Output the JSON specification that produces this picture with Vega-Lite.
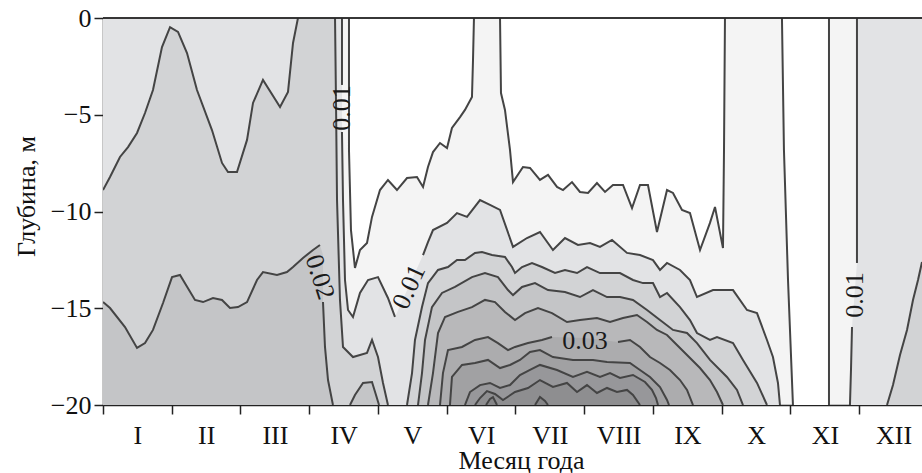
{
"$schema":"https://vega.github.io/schema/vega-lite/v6.json",
"width":819,"height":387,"autosize":"none",
"padding":{"left":103,"top":18,"right":0,"bottom":68},
"config":{"view":{"fill":"#f4f4f4","stroke":null},
"axis":{"labelFont":"'Liberation Serif', 'Times New Roman', 'DejaVu Serif', serif","labelFontSize":26,"titleFont":"'Liberation Serif', 'Times New Roman', 'DejaVu Serif', serif","titleFontSize":26,"titleFontWeight":"normal","labelColor":"#111","titleColor":"#111","domainColor":"#222","tickColor":"#222","domainWidth":1.5,"tickWidth":1.5,"tickSize":9,"grid":false,"zindex":1}},
"datasets":{"pg":[
{"p":"W1","v":0,"i":1,"m":3.578,"d":0,"s":"w1"},{"p":"W1","v":0,"i":2,"m":3.578,"d":-6.82,"s":"w1"},{"p":"W1","v":0,"i":3,"m":3.607,"d":-10.96,"s":"w1"},{"p":"W1","v":0,"i":4,"m":3.665,"d":-12.92,"s":"w1"},{"p":"W1","v":0,"i":5,"m":3.738,"d":-11.99,"s":"w1"},{"p":"W1","v":0,"i":6,"m":3.84,"d":-11.63,"s":"w1"},{"p":"W1","v":0,"i":7,"m":3.913,"d":-10.28,"s":"w1"},{"p":"W1","v":0,"i":8,"m":4.029,"d":-8.89,"s":"w1"},{"p":"W1","v":0,"i":9,"m":4.145,"d":-8.37,"s":"w1"},{"p":"W1","v":0,"i":10,"m":4.276,"d":-8.89,"s":"w1"},{"p":"W1","v":0,"i":11,"m":4.422,"d":-8.27,"s":"w1"},{"p":"W1","v":0,"i":12,"m":4.567,"d":-8.22,"s":"w1"},{"p":"W1","v":0,"i":13,"m":4.655,"d":-8.73,"s":"w1"},{"p":"W1","v":0,"i":14,"m":4.727,"d":-7.7,"s":"w1"},{"p":"W1","v":0,"i":15,"m":4.8,"d":-6.93,"s":"w1"},{"p":"W1","v":0,"i":16,"m":4.902,"d":-6.46,"s":"w1"},{"p":"W1","v":0,"i":17,"m":5.004,"d":-6.72,"s":"w1"},{"p":"W1","v":0,"i":18,"m":5.076,"d":-5.68,"s":"w1"},{"p":"W1","v":0,"i":19,"m":5.193,"d":-5.12,"s":"w1"},{"p":"W1","v":0,"i":20,"m":5.265,"d":-4.75,"s":"w1"},{"p":"W1","v":0,"i":21,"m":5.367,"d":-4.08,"s":"w1"},{"p":"W1","v":0,"i":22,"m":5.382,"d":-2.17,"s":"w1"},{"p":"W1","v":0,"i":23,"m":5.396,"d":0,"s":"w1"},
{"p":"W2","v":0,"i":1,"m":5.775,"d":0,"s":"w2"},{"p":"W2","v":0,"i":2,"m":5.789,"d":-3.88,"s":"w2"},{"p":"W2","v":0,"i":3,"m":5.847,"d":-4.75,"s":"w2"},{"p":"W2","v":0,"i":4,"m":5.92,"d":-6.82,"s":"w2"},{"p":"W2","v":0,"i":5,"m":5.964,"d":-8.48,"s":"w2"},{"p":"W2","v":0,"i":6,"m":6.109,"d":-7.7,"s":"w2"},{"p":"W2","v":0,"i":7,"m":6.211,"d":-7.75,"s":"w2"},{"p":"W2","v":0,"i":8,"m":6.356,"d":-8.37,"s":"w2"},{"p":"W2","v":0,"i":9,"m":6.473,"d":-8.11,"s":"w2"},{"p":"W2","v":0,"i":10,"m":6.604,"d":-8.73,"s":"w2"},{"p":"W2","v":0,"i":11,"m":6.691,"d":-8.89,"s":"w2"},{"p":"W2","v":0,"i":12,"m":6.822,"d":-8.48,"s":"w2"},{"p":"W2","v":0,"i":13,"m":6.938,"d":-8.99,"s":"w2"},{"p":"W2","v":0,"i":14,"m":7.055,"d":-9.04,"s":"w2"},{"p":"W2","v":0,"i":15,"m":7.185,"d":-8.53,"s":"w2"},{"p":"W2","v":0,"i":16,"m":7.302,"d":-8.99,"s":"w2"},{"p":"W2","v":0,"i":17,"m":7.418,"d":-8.63,"s":"w2"},{"p":"W2","v":0,"i":18,"m":7.564,"d":-8.63,"s":"w2"},{"p":"W2","v":0,"i":19,"m":7.695,"d":-9.82,"s":"w2"},{"p":"W2","v":0,"i":20,"m":7.811,"d":-8.63,"s":"w2"},{"p":"W2","v":0,"i":21,"m":7.927,"d":-8.63,"s":"w2"},{"p":"W2","v":0,"i":22,"m":8.058,"d":-11.06,"s":"w2"},{"p":"W2","v":0,"i":23,"m":8.204,"d":-8.89,"s":"w2"},{"p":"W2","v":0,"i":24,"m":8.291,"d":-9.04,"s":"w2"},{"p":"W2","v":0,"i":25,"m":8.422,"d":-9.92,"s":"w2"},{"p":"W2","v":0,"i":26,"m":8.538,"d":-10.08,"s":"w2"},{"p":"W2","v":0,"i":27,"m":8.684,"d":-11.99,"s":"w2"},{"p":"W2","v":0,"i":28,"m":8.829,"d":-10.59,"s":"w2"},{"p":"W2","v":0,"i":29,"m":8.902,"d":-9.77,"s":"w2"},{"p":"W2","v":0,"i":30,"m":9.018,"d":-11.89,"s":"w2"},{"p":"W2","v":0,"i":31,"m":9.033,"d":-6.82,"s":"w2"},{"p":"W2","v":0,"i":32,"m":9.047,"d":0,"s":"w2"},
{"p":"W3","v":0,"i":1,"m":9.876,"d":0,"s":"w3a"},{"p":"W3","v":0,"i":2,"m":9.905,"d":-6.82,"s":"w3a"},{"p":"W3","v":0,"i":3,"m":9.964,"d":-13.54,"s":"w3a"},{"p":"W3","v":0,"i":4,"m":10.036,"d":-20,"s":"w3a"},{"p":"W3","v":0,"i":5,"m":10.56,"d":-20,"s":"w3b"},{"p":"W3","v":0,"i":6,"m":10.56,"d":0,"s":"w3b"},
{"p":"A10","v":0.01,"i":1,"m":0,"d":-20},{"p":"A10","v":0.01,"i":2,"m":0,"d":0},
{"p":"A10","v":0.01,"i":3,"m":3.476,"d":0,"s":"c10a"},{"p":"A10","v":0.01,"i":4,"m":3.476,"d":-3.46,"s":"c10a"},
{"p":"A10","v":0.01,"i":5,"m":3.476,"d":-5.89,"s":"c10b"},{"p":"A10","v":0.01,"i":6,"m":3.491,"d":-9.41,"s":"c10b"},{"p":"A10","v":0.01,"i":7,"m":3.52,"d":-13.54,"s":"c10b"},{"p":"A10","v":0.01,"i":8,"m":3.564,"d":-15.09,"s":"c10b"},{"p":"A10","v":0.01,"i":9,"m":3.636,"d":-15.45,"s":"c10b"},{"p":"A10","v":0.01,"i":10,"m":3.738,"d":-14.21,"s":"c10b"},{"p":"A10","v":0.01,"i":11,"m":3.855,"d":-13.54,"s":"c10b"},{"p":"A10","v":0.01,"i":12,"m":4.0,"d":-13.39,"s":"c10b"},{"p":"A10","v":0.01,"i":13,"m":4.145,"d":-14.47,"s":"c10b"},{"p":"A10","v":0.01,"i":14,"m":4.247,"d":-15.45,"s":"c10b"},
{"p":"A10","v":0.01,"i":15,"m":4.655,"d":-12.25,"s":"c10c"},{"p":"A10","v":0.01,"i":16,"m":4.727,"d":-11.58,"s":"c10c"},{"p":"A10","v":0.01,"i":17,"m":4.8,"d":-10.96,"s":"c10c"},{"p":"A10","v":0.01,"i":18,"m":5.004,"d":-10.59,"s":"c10c"},{"p":"A10","v":0.01,"i":19,"m":5.149,"d":-10.08,"s":"c10c"},{"p":"A10","v":0.01,"i":20,"m":5.295,"d":-10.28,"s":"c10c"},{"p":"A10","v":0.01,"i":21,"m":5.484,"d":-9.41,"s":"c10c"},{"p":"A10","v":0.01,"i":22,"m":5.629,"d":-9.66,"s":"c10c"},{"p":"A10","v":0.01,"i":23,"m":5.775,"d":-9.92,"s":"c10c"},{"p":"A10","v":0.01,"i":24,"m":5.964,"d":-11.83,"s":"c10c"},{"p":"A10","v":0.01,"i":25,"m":6.167,"d":-11.37,"s":"c10c"},{"p":"A10","v":0.01,"i":26,"m":6.356,"d":-11.06,"s":"c10c"},{"p":"A10","v":0.01,"i":27,"m":6.545,"d":-11.99,"s":"c10c"},{"p":"A10","v":0.01,"i":28,"m":6.72,"d":-11.37,"s":"c10c"},{"p":"A10","v":0.01,"i":29,"m":6.909,"d":-11.73,"s":"c10c"},{"p":"A10","v":0.01,"i":30,"m":7.084,"d":-11.63,"s":"c10c"},{"p":"A10","v":0.01,"i":31,"m":7.229,"d":-11.83,"s":"c10c"},{"p":"A10","v":0.01,"i":32,"m":7.404,"d":-11.47,"s":"c10c"},{"p":"A10","v":0.01,"i":33,"m":7.622,"d":-12.14,"s":"c10c"},{"p":"A10","v":0.01,"i":34,"m":7.811,"d":-12.25,"s":"c10c"},{"p":"A10","v":0.01,"i":35,"m":8.0,"d":-12.51,"s":"c10c"},{"p":"A10","v":0.01,"i":36,"m":8.102,"d":-13.02,"s":"c10c"},{"p":"A10","v":0.01,"i":37,"m":8.204,"d":-12.66,"s":"c10c"},{"p":"A10","v":0.01,"i":38,"m":8.393,"d":-13.02,"s":"c10c"},{"p":"A10","v":0.01,"i":39,"m":8.538,"d":-13.54,"s":"c10c"},{"p":"A10","v":0.01,"i":40,"m":8.64,"d":-14.42,"s":"c10c"},{"p":"A10","v":0.01,"i":41,"m":8.873,"d":-14.06,"s":"c10c"},{"p":"A10","v":0.01,"i":42,"m":9.164,"d":-14.06,"s":"c10c"},{"p":"A10","v":0.01,"i":43,"m":9.367,"d":-15.09,"s":"c10c"},{"p":"A10","v":0.01,"i":44,"m":9.513,"d":-15.25,"s":"c10c"},{"p":"A10","v":0.01,"i":45,"m":9.658,"d":-16.64,"s":"c10c"},{"p":"A10","v":0.01,"i":46,"m":9.745,"d":-17.52,"s":"c10c"},{"p":"A10","v":0.01,"i":47,"m":9.818,"d":-18.86,"s":"c10c"},{"p":"A10","v":0.01,"i":48,"m":9.847,"d":-20,"s":"c10c"},
{"p":"B10","v":0.01,"i":1,"m":10.967,"d":0,"s":"c10d"},{"p":"B10","v":0.01,"i":2,"m":10.967,"d":-6.82,"s":"c10d"},{"p":"B10","v":0.01,"i":3,"m":10.967,"d":-12.66,"s":"c10d"},{"p":"B10","v":0.01,"i":4,"m":10.895,"d":-15.97,"s":"c10e"},{"p":"B10","v":0.01,"i":5,"m":10.88,"d":-18.19,"s":"c10e"},{"p":"B10","v":0.01,"i":6,"m":10.865,"d":-20,"s":"c10e"},{"p":"B10","v":0.01,"i":7,"m":11.913,"d":-20},{"p":"B10","v":0.01,"i":8,"m":11.913,"d":0},
{"p":"A15","v":0.015,"i":1,"m":0,"d":-20},
{"p":"A15","v":0.015,"i":2,"m":0,"d":-8.89,"s":"c15a"},{"p":"A15","v":0.015,"i":3,"m":0.102,"d":-8.22,"s":"c15a"},{"p":"A15","v":0.015,"i":4,"m":0.247,"d":-7.18,"s":"c15a"},{"p":"A15","v":0.015,"i":5,"m":0.364,"d":-6.67,"s":"c15a"},{"p":"A15","v":0.015,"i":6,"m":0.495,"d":-5.94,"s":"c15a"},{"p":"A15","v":0.015,"i":7,"m":0.611,"d":-4.91,"s":"c15a"},{"p":"A15","v":0.015,"i":8,"m":0.727,"d":-3.72,"s":"c15a"},{"p":"A15","v":0.015,"i":9,"m":0.858,"d":-1.5,"s":"c15a"},{"p":"A15","v":0.015,"i":10,"m":0.975,"d":-0.47,"s":"c15a"},{"p":"A15","v":0.015,"i":11,"m":1.091,"d":-0.72,"s":"c15a"},{"p":"A15","v":0.015,"i":12,"m":1.222,"d":-1.81,"s":"c15a"},{"p":"A15","v":0.015,"i":13,"m":1.367,"d":-3.72,"s":"c15a"},{"p":"A15","v":0.015,"i":14,"m":1.585,"d":-5.79,"s":"c15a"},{"p":"A15","v":0.015,"i":15,"m":1.731,"d":-7.49,"s":"c15a"},{"p":"A15","v":0.015,"i":16,"m":1.818,"d":-7.96,"s":"c15a"},{"p":"A15","v":0.015,"i":17,"m":1.949,"d":-7.96,"s":"c15a"},{"p":"A15","v":0.015,"i":18,"m":2.095,"d":-6.3,"s":"c15a"},{"p":"A15","v":0.015,"i":19,"m":2.182,"d":-4.39,"s":"c15a"},{"p":"A15","v":0.015,"i":20,"m":2.327,"d":-3.2,"s":"c15a"},{"p":"A15","v":0.015,"i":21,"m":2.575,"d":-4.6,"s":"c15a"},{"p":"A15","v":0.015,"i":22,"m":2.691,"d":-3.82,"s":"c15a"},{"p":"A15","v":0.015,"i":23,"m":2.764,"d":-1.29,"s":"c15a"},{"p":"A15","v":0.015,"i":24,"m":2.836,"d":0,"s":"c15a"},
{"p":"A15","v":0.015,"i":25,"m":3.375,"d":0,"s":"c15b"},{"p":"A15","v":0.015,"i":26,"m":3.389,"d":-4.24,"s":"c15b"},{"p":"A15","v":0.015,"i":27,"m":3.404,"d":-9.41,"s":"c15b"},{"p":"A15","v":0.015,"i":28,"m":3.447,"d":-14.57,"s":"c15b"},{"p":"A15","v":0.015,"i":29,"m":3.491,"d":-17.0,"s":"c15b"},{"p":"A15","v":0.015,"i":30,"m":3.636,"d":-17.52,"s":"c15b"},{"p":"A15","v":0.015,"i":31,"m":3.84,"d":-17.31,"s":"c15b"},{"p":"A15","v":0.015,"i":32,"m":3.913,"d":-16.64,"s":"c15b"},{"p":"A15","v":0.015,"i":33,"m":4.0,"d":-17.52,"s":"c15b"},{"p":"A15","v":0.015,"i":34,"m":4.073,"d":-18.86,"s":"c15b"},{"p":"A15","v":0.015,"i":35,"m":4.145,"d":-20,"s":"c15b"},
{"p":"B15","v":0.015,"i":1,"m":4.422,"d":-20,"s":"c15c"},{"p":"B15","v":0.015,"i":2,"m":4.495,"d":-18.35,"s":"c15c"},{"p":"B15","v":0.015,"i":3,"m":4.538,"d":-16.64,"s":"c15c"},{"p":"B15","v":0.015,"i":4,"m":4.64,"d":-14.94,"s":"c15c"},{"p":"B15","v":0.015,"i":5,"m":4.727,"d":-13.7,"s":"c15c"},{"p":"B15","v":0.015,"i":6,"m":4.873,"d":-13.02,"s":"c15c"},{"p":"B15","v":0.015,"i":7,"m":5.018,"d":-12.87,"s":"c15c"},{"p":"B15","v":0.015,"i":8,"m":5.149,"d":-12.51,"s":"c15c"},{"p":"B15","v":0.015,"i":9,"m":5.265,"d":-12.51,"s":"c15c"},{"p":"B15","v":0.015,"i":10,"m":5.411,"d":-12.14,"s":"c15c"},{"p":"B15","v":0.015,"i":11,"m":5.513,"d":-12.09,"s":"c15c"},{"p":"B15","v":0.015,"i":12,"m":5.658,"d":-12.25,"s":"c15c"},{"p":"B15","v":0.015,"i":13,"m":5.847,"d":-12.35,"s":"c15c"},{"p":"B15","v":0.015,"i":14,"m":5.949,"d":-12.87,"s":"c15c"},{"p":"B15","v":0.015,"i":15,"m":5.993,"d":-13.18,"s":"c15c"},{"p":"B15","v":0.015,"i":16,"m":6.095,"d":-12.87,"s":"c15c"},{"p":"B15","v":0.015,"i":17,"m":6.24,"d":-12.66,"s":"c15c"},{"p":"B15","v":0.015,"i":18,"m":6.385,"d":-12.87,"s":"c15c"},{"p":"B15","v":0.015,"i":19,"m":6.575,"d":-13.18,"s":"c15c"},{"p":"B15","v":0.015,"i":20,"m":6.72,"d":-13.02,"s":"c15c"},{"p":"B15","v":0.015,"i":21,"m":6.895,"d":-13.18,"s":"c15c"},{"p":"B15","v":0.015,"i":22,"m":7.04,"d":-12.87,"s":"c15c"},{"p":"B15","v":0.015,"i":23,"m":7.229,"d":-13.18,"s":"c15c"},{"p":"B15","v":0.015,"i":24,"m":7.52,"d":-13.18,"s":"c15c"},{"p":"B15","v":0.015,"i":25,"m":7.709,"d":-13.54,"s":"c15c"},{"p":"B15","v":0.015,"i":26,"m":7.855,"d":-13.7,"s":"c15c"},{"p":"B15","v":0.015,"i":27,"m":8.0,"d":-13.7,"s":"c15c"},{"p":"B15","v":0.015,"i":28,"m":8.102,"d":-14.42,"s":"c15c"},{"p":"B15","v":0.015,"i":29,"m":8.204,"d":-14.21,"s":"c15c"},{"p":"B15","v":0.015,"i":30,"m":8.393,"d":-14.94,"s":"c15c"},{"p":"B15","v":0.015,"i":31,"m":8.538,"d":-15.61,"s":"c15c"},{"p":"B15","v":0.015,"i":32,"m":8.64,"d":-16.28,"s":"c15c"},{"p":"B15","v":0.015,"i":33,"m":8.829,"d":-16.64,"s":"c15c"},{"p":"B15","v":0.015,"i":34,"m":8.931,"d":-16.49,"s":"c15c"},{"p":"B15","v":0.015,"i":35,"m":9.164,"d":-16.8,"s":"c15c"},{"p":"B15","v":0.015,"i":36,"m":9.309,"d":-17.67,"s":"c15c"},{"p":"B15","v":0.015,"i":37,"m":9.513,"d":-18.86,"s":"c15c"},{"p":"B15","v":0.015,"i":38,"m":9.658,"d":-20,"s":"c15c"},
{"p":"C15","v":0.015,"i":1,"m":11.404,"d":-20,"s":"c15d"},{"p":"C15","v":0.015,"i":2,"m":11.491,"d":-18.97,"s":"c15d"},{"p":"C15","v":0.015,"i":3,"m":11.593,"d":-17.42,"s":"c15d"},{"p":"C15","v":0.015,"i":4,"m":11.695,"d":-16.12,"s":"c15d"},{"p":"C15","v":0.015,"i":5,"m":11.782,"d":-14.57,"s":"c15d"},{"p":"C15","v":0.015,"i":6,"m":11.855,"d":-13.54,"s":"c15d"},{"p":"C15","v":0.015,"i":7,"m":11.913,"d":-12.61,"s":"c15d"},{"p":"C15","v":0.015,"i":8,"m":11.913,"d":-20},
{"p":"A20","v":0.02,"i":1,"m":0,"d":-20},
{"p":"A20","v":0.02,"i":2,"m":0,"d":-14.68,"s":"c20a"},{"p":"A20","v":0.02,"i":3,"m":0.102,"d":-14.99,"s":"c20a"},{"p":"A20","v":0.02,"i":4,"m":0.32,"d":-15.97,"s":"c20a"},{"p":"A20","v":0.02,"i":5,"m":0.495,"d":-17.05,"s":"c20a"},{"p":"A20","v":0.02,"i":6,"m":0.611,"d":-16.8,"s":"c20a"},{"p":"A20","v":0.02,"i":7,"m":0.727,"d":-16.12,"s":"c20a"},{"p":"A20","v":0.02,"i":8,"m":0.873,"d":-14.73,"s":"c20a"},{"p":"A20","v":0.02,"i":9,"m":1.004,"d":-13.39,"s":"c20a"},{"p":"A20","v":0.02,"i":10,"m":1.12,"d":-13.28,"s":"c20a"},{"p":"A20","v":0.02,"i":11,"m":1.338,"d":-14.57,"s":"c20a"},{"p":"A20","v":0.02,"i":12,"m":1.455,"d":-14.68,"s":"c20a"},{"p":"A20","v":0.02,"i":13,"m":1.6,"d":-14.47,"s":"c20a"},{"p":"A20","v":0.02,"i":14,"m":1.731,"d":-14.57,"s":"c20a"},{"p":"A20","v":0.02,"i":15,"m":1.847,"d":-14.99,"s":"c20a"},{"p":"A20","v":0.02,"i":16,"m":1.964,"d":-14.94,"s":"c20a"},{"p":"A20","v":0.02,"i":17,"m":2.095,"d":-14.68,"s":"c20a"},{"p":"A20","v":0.02,"i":18,"m":2.24,"d":-13.54,"s":"c20a"},{"p":"A20","v":0.02,"i":19,"m":2.327,"d":-13.13,"s":"c20a"},{"p":"A20","v":0.02,"i":20,"m":2.531,"d":-13.28,"s":"c20a"},{"p":"A20","v":0.02,"i":21,"m":2.676,"d":-13.13,"s":"c20a"},{"p":"A20","v":0.02,"i":22,"m":2.764,"d":-12.87,"s":"c20a"},{"p":"A20","v":0.02,"i":23,"m":2.909,"d":-12.4,"s":"c20a"},{"p":"A20","v":0.02,"i":24,"m":3.055,"d":-11.99,"s":"c20a"},{"p":"A20","v":0.02,"i":25,"m":3.156,"d":-11.73,"s":"c20a"},
{"p":"A20","v":0.02,"i":26,"m":3.2,"d":-12.25},
{"p":"A20","v":0.02,"i":27,"m":3.2,"d":-14.68,"s":"c20b"},{"p":"A20","v":0.02,"i":28,"m":3.229,"d":-17.0,"s":"c20b"},{"p":"A20","v":0.02,"i":29,"m":3.273,"d":-18.71,"s":"c20b"},{"p":"A20","v":0.02,"i":30,"m":3.345,"d":-20,"s":"c20b"},
{"p":"E20","v":0.02,"i":1,"m":3.593,"d":-20,"s":"c20c"},{"p":"E20","v":0.02,"i":2,"m":3.665,"d":-19.48,"s":"c20c"},{"p":"E20","v":0.02,"i":3,"m":3.782,"d":-18.86,"s":"c20c"},{"p":"E20","v":0.02,"i":4,"m":3.913,"d":-18.81,"s":"c20c"},{"p":"E20","v":0.02,"i":5,"m":3.971,"d":-19.48,"s":"c20c"},{"p":"E20","v":0.02,"i":6,"m":4.015,"d":-20,"s":"c20c"},
{"p":"B20","v":0.02,"i":1,"m":4.582,"d":-20,"s":"c20d"},{"p":"B20","v":0.02,"i":2,"m":4.64,"d":-18.35,"s":"c20d"},{"p":"B20","v":0.02,"i":3,"m":4.684,"d":-16.64,"s":"c20d"},{"p":"B20","v":0.02,"i":4,"m":4.785,"d":-14.94,"s":"c20d"},{"p":"B20","v":0.02,"i":5,"m":4.931,"d":-14.21,"s":"c20d"},{"p":"B20","v":0.02,"i":6,"m":5.12,"d":-13.9,"s":"c20d"},{"p":"B20","v":0.02,"i":7,"m":5.367,"d":-13.39,"s":"c20d"},{"p":"B20","v":0.02,"i":8,"m":5.556,"d":-13.18,"s":"c20d"},{"p":"B20","v":0.02,"i":9,"m":5.745,"d":-13.39,"s":"c20d"},{"p":"B20","v":0.02,"i":10,"m":5.891,"d":-14.06,"s":"c20d"},{"p":"B20","v":0.02,"i":11,"m":5.964,"d":-14.32,"s":"c20d"},{"p":"B20","v":0.02,"i":12,"m":6.095,"d":-13.9,"s":"c20d"},{"p":"B20","v":0.02,"i":13,"m":6.284,"d":-13.7,"s":"c20d"},{"p":"B20","v":0.02,"i":14,"m":6.473,"d":-14.06,"s":"c20d"},{"p":"B20","v":0.02,"i":15,"m":6.72,"d":-14.16,"s":"c20d"},{"p":"B20","v":0.02,"i":16,"m":6.938,"d":-14.42,"s":"c20d"},{"p":"B20","v":0.02,"i":17,"m":7.127,"d":-14.06,"s":"c20d"},{"p":"B20","v":0.02,"i":18,"m":7.331,"d":-14.42,"s":"c20d"},{"p":"B20","v":0.02,"i":19,"m":7.52,"d":-14.42,"s":"c20d"},{"p":"B20","v":0.02,"i":20,"m":7.709,"d":-14.57,"s":"c20d"},{"p":"B20","v":0.02,"i":21,"m":7.913,"d":-15.09,"s":"c20d"},{"p":"B20","v":0.02,"i":22,"m":8.102,"d":-15.61,"s":"c20d"},{"p":"B20","v":0.02,"i":23,"m":8.291,"d":-16.12,"s":"c20d"},{"p":"B20","v":0.02,"i":24,"m":8.495,"d":-16.28,"s":"c20d"},{"p":"B20","v":0.02,"i":25,"m":8.64,"d":-16.8,"s":"c20d"},{"p":"B20","v":0.02,"i":26,"m":8.829,"d":-17.67,"s":"c20d"},{"p":"B20","v":0.02,"i":27,"m":9.076,"d":-18.55,"s":"c20d"},{"p":"B20","v":0.02,"i":28,"m":9.222,"d":-19.22,"s":"c20d"},{"p":"B20","v":0.02,"i":29,"m":9.309,"d":-20,"s":"c20d"},
{"p":"B25","v":0.025,"i":1,"m":4.727,"d":-20,"s":"c25"},{"p":"B25","v":0.025,"i":2,"m":4.8,"d":-18.35,"s":"c25"},{"p":"B25","v":0.025,"i":3,"m":4.873,"d":-16.28,"s":"c25"},{"p":"B25","v":0.025,"i":4,"m":4.975,"d":-15.45,"s":"c25"},{"p":"B25","v":0.025,"i":5,"m":5.164,"d":-15.19,"s":"c25"},{"p":"B25","v":0.025,"i":6,"m":5.367,"d":-14.94,"s":"c25"},{"p":"B25","v":0.025,"i":7,"m":5.556,"d":-14.57,"s":"c25"},{"p":"B25","v":0.025,"i":8,"m":5.702,"d":-14.68,"s":"c25"},{"p":"B25","v":0.025,"i":9,"m":5.847,"d":-15.19,"s":"c25"},{"p":"B25","v":0.025,"i":10,"m":5.993,"d":-15.61,"s":"c25"},{"p":"B25","v":0.025,"i":11,"m":6.138,"d":-15.25,"s":"c25"},{"p":"B25","v":0.025,"i":12,"m":6.327,"d":-14.99,"s":"c25"},{"p":"B25","v":0.025,"i":13,"m":6.531,"d":-15.25,"s":"c25"},{"p":"B25","v":0.025,"i":14,"m":6.749,"d":-15.71,"s":"c25"},{"p":"B25","v":0.025,"i":15,"m":6.938,"d":-15.61,"s":"c25"},{"p":"B25","v":0.025,"i":16,"m":7.185,"d":-15.5,"s":"c25"},{"p":"B25","v":0.025,"i":17,"m":7.375,"d":-15.71,"s":"c25"},{"p":"B25","v":0.025,"i":18,"m":7.564,"d":-15.5,"s":"c25"},{"p":"B25","v":0.025,"i":19,"m":7.767,"d":-15.35,"s":"c25"},{"p":"B25","v":0.025,"i":20,"m":7.913,"d":-15.71,"s":"c25"},{"p":"B25","v":0.025,"i":21,"m":8.058,"d":-16.12,"s":"c25"},{"p":"B25","v":0.025,"i":22,"m":8.204,"d":-16.38,"s":"c25"},{"p":"B25","v":0.025,"i":23,"m":8.349,"d":-16.9,"s":"c25"},{"p":"B25","v":0.025,"i":24,"m":8.495,"d":-17.42,"s":"c25"},{"p":"B25","v":0.025,"i":25,"m":8.684,"d":-18.09,"s":"c25"},{"p":"B25","v":0.025,"i":26,"m":8.829,"d":-18.71,"s":"c25"},{"p":"B25","v":0.025,"i":27,"m":8.931,"d":-19.33,"s":"c25"},{"p":"B25","v":0.025,"i":28,"m":9.018,"d":-20,"s":"c25"},
{"p":"B30","v":0.03,"i":1,"m":4.902,"d":-20,"s":"c30a"},{"p":"B30","v":0.03,"i":2,"m":4.945,"d":-18.35,"s":"c30a"},{"p":"B30","v":0.03,"i":3,"m":5.018,"d":-17.16,"s":"c30a"},{"p":"B30","v":0.03,"i":4,"m":5.222,"d":-17.0,"s":"c30a"},{"p":"B30","v":0.03,"i":5,"m":5.411,"d":-16.64,"s":"c30a"},{"p":"B30","v":0.03,"i":6,"m":5.6,"d":-16.49,"s":"c30a"},{"p":"B30","v":0.03,"i":7,"m":5.745,"d":-16.8,"s":"c30a"},{"p":"B30","v":0.03,"i":8,"m":5.891,"d":-17.16,"s":"c30a"},{"p":"B30","v":0.03,"i":9,"m":5.993,"d":-17.0,"s":"c30a"},{"p":"B30","v":0.03,"i":10,"m":6.182,"d":-16.8,"s":"c30a"},{"p":"B30","v":0.03,"i":11,"m":6.385,"d":-16.64,"s":"c30a"},{"p":"B30","v":0.03,"i":12,"m":6.531,"d":-16.49,"s":"c30a"},
{"p":"B30","v":0.03,"i":13,"m":7.011,"d":-16.54},
{"p":"B30","v":0.03,"i":14,"m":7.491,"d":-16.74,"s":"c30b"},{"p":"B30","v":0.03,"i":15,"m":7.665,"d":-16.64,"s":"c30b"},{"p":"B30","v":0.03,"i":16,"m":7.811,"d":-17.0,"s":"c30b"},{"p":"B30","v":0.03,"i":17,"m":7.956,"d":-17.52,"s":"c30b"},{"p":"B30","v":0.03,"i":18,"m":8.102,"d":-17.83,"s":"c30b"},{"p":"B30","v":0.03,"i":19,"m":8.247,"d":-18.19,"s":"c30b"},{"p":"B30","v":0.03,"i":20,"m":8.393,"d":-18.71,"s":"c30b"},{"p":"B30","v":0.03,"i":21,"m":8.495,"d":-19.22,"s":"c30b"},{"p":"B30","v":0.03,"i":22,"m":8.582,"d":-20,"s":"c30b"},
{"p":"B35","v":0.035,"i":1,"m":5.047,"d":-20,"s":"c35"},{"p":"B35","v":0.035,"i":2,"m":5.076,"d":-18.55,"s":"c35"},{"p":"B35","v":0.035,"i":3,"m":5.222,"d":-17.93,"s":"c35"},{"p":"B35","v":0.035,"i":4,"m":5.411,"d":-17.83,"s":"c35"},{"p":"B35","v":0.035,"i":5,"m":5.6,"d":-17.67,"s":"c35"},{"p":"B35","v":0.035,"i":6,"m":5.775,"d":-18.09,"s":"c35"},{"p":"B35","v":0.035,"i":7,"m":5.92,"d":-17.93,"s":"c35"},{"p":"B35","v":0.035,"i":8,"m":6.065,"d":-17.67,"s":"c35"},{"p":"B35","v":0.035,"i":9,"m":6.211,"d":-17.26,"s":"c35"},{"p":"B35","v":0.035,"i":10,"m":6.356,"d":-17.16,"s":"c35"},{"p":"B35","v":0.035,"i":11,"m":6.545,"d":-17.52,"s":"c35"},{"p":"B35","v":0.035,"i":12,"m":6.836,"d":-17.67,"s":"c35"},{"p":"B35","v":0.035,"i":13,"m":7.127,"d":-17.67,"s":"c35"},{"p":"B35","v":0.035,"i":14,"m":7.331,"d":-17.78,"s":"c35"},{"p":"B35","v":0.035,"i":15,"m":7.665,"d":-17.83,"s":"c35"},{"p":"B35","v":0.035,"i":16,"m":7.811,"d":-18.19,"s":"c35"},{"p":"B35","v":0.035,"i":17,"m":7.956,"d":-18.55,"s":"c35"},{"p":"B35","v":0.035,"i":18,"m":8.102,"d":-19.07,"s":"c35"},{"p":"B35","v":0.035,"i":19,"m":8.204,"d":-19.74,"s":"c35"},{"p":"B35","v":0.035,"i":20,"m":8.233,"d":-20,"s":"c35"},
{"p":"B40","v":0.04,"i":1,"m":5.265,"d":-20,"s":"c40"},{"p":"B40","v":0.04,"i":2,"m":5.338,"d":-19.33,"s":"c40"},{"p":"B40","v":0.04,"i":3,"m":5.484,"d":-18.97,"s":"c40"},{"p":"B40","v":0.04,"i":4,"m":5.629,"d":-18.86,"s":"c40"},{"p":"B40","v":0.04,"i":5,"m":5.775,"d":-19.12,"s":"c40"},{"p":"B40","v":0.04,"i":6,"m":5.92,"d":-18.97,"s":"c40"},{"p":"B40","v":0.04,"i":7,"m":6.065,"d":-18.45,"s":"c40"},{"p":"B40","v":0.04,"i":8,"m":6.211,"d":-18.19,"s":"c40"},{"p":"B40","v":0.04,"i":9,"m":6.356,"d":-17.93,"s":"c40"},{"p":"B40","v":0.04,"i":10,"m":6.604,"d":-18.19,"s":"c40"},{"p":"B40","v":0.04,"i":11,"m":6.836,"d":-18.55,"s":"c40"},{"p":"B40","v":0.04,"i":12,"m":7.04,"d":-18.29,"s":"c40"},{"p":"B40","v":0.04,"i":13,"m":7.229,"d":-18.55,"s":"c40"},{"p":"B40","v":0.04,"i":14,"m":7.375,"d":-18.35,"s":"c40"},{"p":"B40","v":0.04,"i":15,"m":7.52,"d":-18.6,"s":"c40"},{"p":"B40","v":0.04,"i":16,"m":7.709,"d":-18.45,"s":"c40"},{"p":"B40","v":0.04,"i":17,"m":7.884,"d":-18.81,"s":"c40"},{"p":"B40","v":0.04,"i":18,"m":7.985,"d":-19.22,"s":"c40"},{"p":"B40","v":0.04,"i":19,"m":8.044,"d":-19.64,"s":"c40"},{"p":"B40","v":0.04,"i":20,"m":8.073,"d":-20,"s":"c40"},
{"p":"B45","v":0.045,"i":1,"m":5.411,"d":-20,"s":"c45"},{"p":"B45","v":0.045,"i":2,"m":5.484,"d":-19.64,"s":"c45"},{"p":"B45","v":0.045,"i":3,"m":5.585,"d":-19.28,"s":"c45"},{"p":"B45","v":0.045,"i":4,"m":5.702,"d":-19.43,"s":"c45"},{"p":"B45","v":0.045,"i":5,"m":5.818,"d":-19.74,"s":"c45"},{"p":"B45","v":0.045,"i":6,"m":5.993,"d":-19.33,"s":"c45"},{"p":"B45","v":0.045,"i":7,"m":6.182,"d":-19.12,"s":"c45"},{"p":"B45","v":0.045,"i":8,"m":6.356,"d":-18.71,"s":"c45"},{"p":"B45","v":0.045,"i":9,"m":6.545,"d":-19.07,"s":"c45"},{"p":"B45","v":0.045,"i":10,"m":6.749,"d":-18.86,"s":"c45"},{"p":"B45","v":0.045,"i":11,"m":6.895,"d":-19.33,"s":"c45"},{"p":"B45","v":0.045,"i":12,"m":7.04,"d":-18.97,"s":"c45"},{"p":"B45","v":0.045,"i":13,"m":7.185,"d":-19.38,"s":"c45"},{"p":"B45","v":0.045,"i":14,"m":7.331,"d":-19.12,"s":"c45"},{"p":"B45","v":0.045,"i":15,"m":7.476,"d":-19.33,"s":"c45"},{"p":"B45","v":0.045,"i":16,"m":7.622,"d":-19.22,"s":"c45"},{"p":"B45","v":0.045,"i":17,"m":7.709,"d":-19.48,"s":"c45"},{"p":"B45","v":0.045,"i":18,"m":7.811,"d":-20,"s":"c45"},
{"p":"D50a","v":0.05,"i":1,"m":5.571,"d":-20,"s":"c50a"},{"p":"D50a","v":0.05,"i":2,"m":5.629,"d":-19.69,"s":"c50a"},{"p":"D50a","v":0.05,"i":3,"m":5.673,"d":-19.59,"s":"c50a"},{"p":"D50a","v":0.05,"i":4,"m":5.731,"d":-20,"s":"c50a"},
{"p":"D50b","v":0.05,"i":1,"m":6.284,"d":-20,"s":"c50b"},{"p":"D50b","v":0.05,"i":2,"m":6.356,"d":-19.59,"s":"c50b"},{"p":"D50b","v":0.05,"i":3,"m":6.429,"d":-19.79,"s":"c50b"},{"p":"D50b","v":0.05,"i":4,"m":6.473,"d":-20,"s":"c50b"}
]},
"encoding":{
"x":{"field":"m","type":"quantitative","title":"Месяц года","scale":{"domain":[0,11.913],"nice":false,"zero":false},
"axis":{"values":[0,1,2,3,4,5,6,7,8,9,10,11],"labelExpr":"['I','II','III','IV','V','VI','VII','VIII','IX','X','XI','XII'][datum.value]","labelOffset":34.4,"labelFlush":false,"labelOverlap":false,"labelBound":false,"labelPadding":8,"titleX":418,"titleY":63,"titleBaseline":"alphabetic"}},
"y":{"field":"d","type":"quantitative","title":"Глубина, м","scale":{"domain":[-20,0],"nice":false,"zero":false},
"axis":{"values":[0,-5,-10,-15,-20],"format":"d","labelPadding":3,"titleX":-69,"titleY":178,"titleBaseline":"alphabetic"}}
},
"layer":[
{"data":{"name":"pg"},"transform":[{"filter":"datum.v===0"}],"mark":{"type":"line","strokeOpacity":0,"clip":true},"encoding":{"order":{"field":"i","type":"quantitative"},"detail":{"field":"p"},"fill":{"field":"v","type":"ordinal","legend":null,"scale":{"domain":[0,0.01,0.015,0.02,0.025,0.03,0.035,0.04,0.045,0.05],"range":["#ffffff","#e2e3e5","#d2d3d5","#c4c5c7","#b8b8ba","#acacae","#a1a1a3","#97979a","#8e8e90","#858587"]}}}},
{"data":{"name":"pg"},"transform":[{"filter":"datum.v===0.01"}],"mark":{"type":"line","strokeOpacity":0,"clip":true},"encoding":{"order":{"field":"i","type":"quantitative"},"detail":{"field":"p"},"fill":{"field":"v","type":"ordinal","legend":null}}},
{"data":{"name":"pg"},"transform":[{"filter":"datum.v===0.015"}],"mark":{"type":"line","strokeOpacity":0,"clip":true},"encoding":{"order":{"field":"i","type":"quantitative"},"detail":{"field":"p"},"fill":{"field":"v","type":"ordinal","legend":null}}},
{"data":{"name":"pg"},"transform":[{"filter":"datum.v===0.02"}],"mark":{"type":"line","strokeOpacity":0,"clip":true},"encoding":{"order":{"field":"i","type":"quantitative"},"detail":{"field":"p"},"fill":{"field":"v","type":"ordinal","legend":null}}},
{"data":{"name":"pg"},"transform":[{"filter":"datum.v===0.025"}],"mark":{"type":"line","strokeOpacity":0,"clip":true},"encoding":{"order":{"field":"i","type":"quantitative"},"detail":{"field":"p"},"fill":{"field":"v","type":"ordinal","legend":null}}},
{"data":{"name":"pg"},"transform":[{"filter":"datum.v===0.03"}],"mark":{"type":"line","strokeOpacity":0,"clip":true},"encoding":{"order":{"field":"i","type":"quantitative"},"detail":{"field":"p"},"fill":{"field":"v","type":"ordinal","legend":null}}},
{"data":{"name":"pg"},"transform":[{"filter":"datum.v===0.035"}],"mark":{"type":"line","strokeOpacity":0,"clip":true},"encoding":{"order":{"field":"i","type":"quantitative"},"detail":{"field":"p"},"fill":{"field":"v","type":"ordinal","legend":null}}},
{"data":{"name":"pg"},"transform":[{"filter":"datum.v===0.04"}],"mark":{"type":"line","strokeOpacity":0,"clip":true},"encoding":{"order":{"field":"i","type":"quantitative"},"detail":{"field":"p"},"fill":{"field":"v","type":"ordinal","legend":null}}},
{"data":{"name":"pg"},"transform":[{"filter":"datum.v===0.045"}],"mark":{"type":"line","strokeOpacity":0,"clip":true},"encoding":{"order":{"field":"i","type":"quantitative"},"detail":{"field":"p"},"fill":{"field":"v","type":"ordinal","legend":null}}},
{"data":{"name":"pg"},"transform":[{"filter":"datum.v===0.05"}],"mark":{"type":"line","strokeOpacity":0,"clip":true},"encoding":{"order":{"field":"i","type":"quantitative"},"detail":{"field":"p"},"fill":{"field":"v","type":"ordinal","legend":null}}},
{"data":{"name":"pg"},"transform":[{"filter":"isValid(datum.s)"}],"mark":{"type":"line","stroke":"#444444","strokeWidth":2,"clip":true},"encoding":{"order":{"field":"i","type":"quantitative"},"detail":{"field":"s"}}},
{"data":{"values":[{"m":0,"d":0},{"m":11.913,"d":0}]},"mark":{"type":"rule","color":"#2a2a2a","strokeWidth":1.5},"encoding":{"x":{"datum":0},"x2":{"datum":11.913},"y":{"datum":0}}},
{"data":{"values":[{"t":"0.03","m":7.011,"d":-16.69}]},"mark":{"type":"text","font":"'Liberation Serif', 'Times New Roman', 'DejaVu Serif', serif","fontSize":26,"color":"#1a1a1a","align":"center","baseline":"middle","angle":0},"encoding":{"text":{"field":"t"}}},
{"data":{"values":[{"t":"0.02","m":3.156,"d":-13.39}]},"mark":{"type":"text","font":"'Liberation Serif', 'Times New Roman', 'DejaVu Serif', serif","fontSize":26,"color":"#1a1a1a","align":"center","baseline":"middle","angle":72},"encoding":{"text":{"field":"t"}}},
{"data":{"values":[{"t":"0.01","m":3.476,"d":-4.65},{"t":"0.01","m":10.938,"d":-14.32}]},"mark":{"type":"text","font":"'Liberation Serif', 'Times New Roman', 'DejaVu Serif', serif","fontSize":26,"color":"#1a1a1a","align":"center","baseline":"middle","angle":270},"encoding":{"text":{"field":"t"}}},
{"data":{"values":[{"t":"0.01","m":4.451,"d":-13.9}]},"mark":{"type":"text","font":"'Liberation Serif', 'Times New Roman', 'DejaVu Serif', serif","fontSize":26,"color":"#1a1a1a","align":"center","baseline":"middle","angle":295},"encoding":{"text":{"field":"t"}}}
]
}
